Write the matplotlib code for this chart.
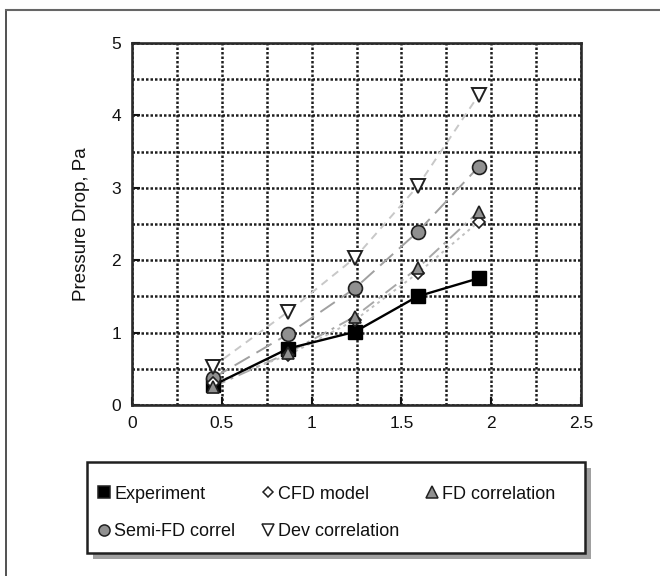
import matplotlib
matplotlib.use("Agg")
import matplotlib.pyplot as plt
from matplotlib.lines import Line2D
from matplotlib.patches import Rectangle
from matplotlib.ticker import MultipleLocator

plt.rcParams['font.family'] = ['Liberation Sans', 'DejaVu Sans']

# Air velocity (x) and pressure drop (Pa) for each method
velocity = [0.45, 0.87, 1.24, 1.59, 1.93]
experiment = [0.27, 0.78, 1.01, 1.50, 1.75]
cfd_model = [0.30, 0.69, 1.17, 1.82, 2.53]
fd_corr = [0.25, 0.72, 1.22, 1.89, 2.67]
semi_fd_corr = [0.37, 0.98, 1.61, 2.39, 3.29]
dev_corr = [0.53, 1.29, 2.03, 3.02, 4.28]

x_ticks = [0, 0.5, 1, 1.5, 2, 2.5]
x_tick_labels = ["0", "0.5", "1", "1.5", "2", "2.5"]
y_ticks = [0, 1, 2, 3, 4, 5]
y_tick_labels = ["0", "1", "2", "3", "4", "5"]

W, H = 660, 576
fig = plt.figure(figsize=(W / 100, H / 100), dpi=100)
ax = fig.add_axes([132 / W, 1 - 405 / H, (581 - 132) / W, (405 - 43) / H])

ax.set_xlim(0, 2.5)
ax.set_ylim(0, 5)

# dotted grid: every 0.25 along x, every 0.5 along y
ax.xaxis.set_minor_locator(MultipleLocator(0.25))
ax.yaxis.set_minor_locator(MultipleLocator(0.5))
ax.grid(which='both', color='#1e1e1e', linestyle=(0, (1, 0.8)), linewidth=1.8)
ax.set_axisbelow(True)

# trend lines for the correlations
ax.plot(velocity, dev_corr, color='#c8c8c8', linestyle=(0, (4, 3)), linewidth=1.4, zorder=3)
ax.plot(velocity, semi_fd_corr, color='#a0a0a0', linestyle=(0, (9, 4)), linewidth=1.4, zorder=3)
ax.plot(velocity, fd_corr, color='#a8a8a8', linestyle=(0, (7, 3, 1.5, 3)), linewidth=1.4, zorder=3)
ax.plot(velocity, cfd_model, color='#c0c0c0', linestyle=(0, (1.5, 2)), linewidth=1.4, zorder=3)
ax.plot(velocity, experiment, color='black', linewidth=1.7, zorder=4)

# markers
ax.plot(velocity, experiment, linestyle='none', marker='s', markersize=10,
        markerfacecolor='black', markeredgecolor='black', zorder=5)
ax.plot(velocity, semi_fd_corr, linestyle='none', marker='o', markersize=10,
        markerfacecolor='#909090', markeredgecolor='#202020', markeredgewidth=1.2, zorder=6)
ax.plot(velocity, cfd_model, linestyle='none', marker='D', markersize=6.5,
        markerfacecolor='white', markeredgecolor='#202020', markeredgewidth=1.2, zorder=6)
ax.plot(velocity, fd_corr, linestyle='none', marker='^', markersize=9,
        markerfacecolor='#909090', markeredgecolor='#202020', markeredgewidth=1.2, zorder=7)
ax.plot(velocity, dev_corr, linestyle='none', marker='v', markersize=10,
        markerfacecolor='white', markeredgecolor='#202020', markeredgewidth=1.4, zorder=7)

ax.set_xticks(x_ticks)
ax.set_xticklabels(x_tick_labels)
ax.set_yticks(y_ticks)
ax.set_yticklabels(y_tick_labels)
ax.tick_params(which='major', direction='in', length=6, width=1.5, labelsize=12.5, pad=8, colors='#111111')
ax.tick_params(which='minor', length=0)
for s in ax.spines.values():
    s.set_linewidth(1.9)
    s.set_color('#2a2a2a')

ax.set_ylabel("Pressure Drop, Pa", fontsize=13.5, labelpad=15, color='#111111')

# legend box with drop shadow
lx0, lx1, ly0, ly1 = 87, 585, 462, 553
fig.patches.append(Rectangle(((lx0 + 6) / W, 1 - (ly1 + 6) / H), (lx1 - lx0) / W, (ly1 - ly0) / H,
                             transform=fig.transFigure, facecolor='#a0a0a0', edgecolor='none', zorder=1))
fig.patches.append(Rectangle((lx0 / W, 1 - ly1 / H), (lx1 - lx0) / W, (ly1 - ly0) / H,
                             transform=fig.transFigure, facecolor='white', edgecolor='#202020',
                             linewidth=1.8, zorder=2))

def handle(marker, face, size):
    return Line2D([], [], linestyle='none', marker=marker, markersize=size,
                  markerfacecolor=face, markeredgecolor='#202020', markeredgewidth=1.1)

entries = [
    (handle('s', 'black', 9), "Experiment"),
    (handle('o', '#909090', 8), "Semi-FD correl"),
    (handle('D', 'white', 5.5), "CFD model"),
    (handle('v', 'white', 8), "Dev correlation"),
    (handle('^', '#909090', 8), "FD correlation"),
]
leg = fig.legend([e[0] for e in entries], [e[1] for e in entries], ncol=3,
                 loc='center left', bbox_to_anchor=(80 / W, 1 - 513 / H),
                 frameon=False, fontsize=13, handlelength=0.9, handletextpad=0.1,
                 columnspacing=1.35, labelspacing=1.15)
leg.set_zorder(3)
for t in leg.get_texts():
    t.set_color('#111111')

# outer frame lines
fig.add_artist(Line2D([6 / W, 6 / W], [0, 1 - 10 / H], color='#333333', linewidth=1.2))
fig.add_artist(Line2D([6 / W, 1], [1 - 10 / H, 1 - 10 / H], color='#666666', linewidth=1.5))

fig.savefig("out.png", dpi=100)
